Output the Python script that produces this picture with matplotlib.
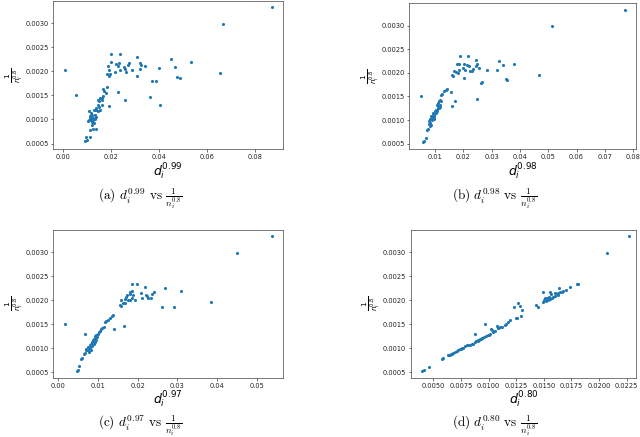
import matplotlib
matplotlib.use("Agg")
import matplotlib.pyplot as plt

# cor dos pontos
cor_pontos = "#1f77b4"

# ---------------- dados ----------------
# (a) d_i^0.99
x_a = [0.0197, 0.0238, 0.0305, 0.0197, 0.0221, 0.0232, 0.0229, 0.0252, 0.0256, 0.0275,
       0.0271, 0.0284, 0.0263, 0.0217, 0.0235, 0.0321, 0.0324, 0.0339, 0.0321, 0.0305,
       0.0184, 0.0189, 0.0182, 0.0193, 0.0189, 0.0371, 0.0388, 0.0399, 0.0360, 0.0402,
       0.0228, 0.0256, 0.0189, 0.0166, 0.0171, 0.0177, 0.0182,
       0.0093, 0.0089, 0.0098, 0.0113, 0.0135, 0.0124, 0.0113, 0.0127, 0.0121, 0.0107,
       0.0103, 0.0113, 0.0117, 0.0124, 0.0131, 0.0110, 0.0121, 0.0131, 0.0117, 0.0107,
       0.0127, 0.0135, 0.0145, 0.0138, 0.0149, 0.0152, 0.0159, 0.0145, 0.0149, 0.0159,
       0.0145, 0.0163, 0.0152, 0.0166, 0.0124, 0.0138, 0.0121, 0.0114, 0.0119,
       0.0006, 0.0054, 0.0871, 0.0667, 0.0449, 0.0533, 0.0465, 0.0653, 0.0472, 0.0486]
y_a = [0.002362, 0.002362, 0.002293, 0.002196, 0.002161, 0.002168, 0.002106, 0.002085, 0.002057, 0.002168,
       0.002140, 0.002022, 0.001988, 0.001988, 0.002022, 0.002175, 0.002133, 0.002106, 0.002050, 0.001911,
       0.002106, 0.002022, 0.001946, 0.001946, 0.001911, 0.001793, 0.001807, 0.002064, 0.001467, 0.001307,
       0.001578, 0.001411, 0.001273, 0.001634, 0.001592, 0.001550, 0.001675,
       0.000627, 0.000558, 0.000572, 0.000634, 0.000801, 0.000801, 0.000787, 0.000926, 0.000891, 0.000995,
       0.000960, 0.001030, 0.001051, 0.001030, 0.001009, 0.001078, 0.001099, 0.001099, 0.001134, 0.001169,
       0.001189, 0.001203, 0.001169, 0.001238, 0.001259, 0.001203, 0.001307, 0.001307, 0.001377, 0.001398,
       0.001411, 0.001446, 0.001446, 0.001481, 0.000995, 0.001051, 0.000940, 0.000981, 0.001009,
       0.002036, 0.001509, 0.003347, 0.002990, 0.002260, 0.002200, 0.002080, 0.001970, 0.001880, 0.001860]

# (b) d_i^0.98
x_b = [0.00494, 0.01895, 0.02178, 0.02437, 0.01766, 0.0186, 0.02025, 0.02119, 0.0219, 0.02002,
       0.0206, 0.02237, 0.01848, 0.01683, 0.01589, 0.01648, 0.0173, 0.01801, 0.0232, 0.02355,
       0.02449, 0.02484, 0.02555, 0.02838, 0.03191, 0.0325, 0.03392, 0.03545, 0.03521, 0.02661,
       0.02626, 0.02037, 0.02473, 0.01695, 0.01601, 0.01554, 0.01424, 0.01377, 0.0133, 0.01259, 0.01212,
       0.00623, 0.00588, 0.0067, 0.00729, 0.00765, 0.00788, 0.00824, 0.008, 0.00835, 0.00882,
       0.00859, 0.00918, 0.00941, 0.00977, 0.01, 0.01024, 0.01059, 0.01094, 0.01118, 0.01071,
       0.01118, 0.01153, 0.01189, 0.01212, 0.01165, 0.00977, 0.00906, 0.00847, 0.00812, 0.01036,
       0.01083, 0.0113, 0.01177, 0.00953,
       0.0771, 0.0513, 0.0379, 0.0467]
y_b = [0.001503, 0.002347, 0.002347, 0.002276, 0.002192, 0.002185, 0.002178, 0.002171, 0.00215, 0.0021,
       0.002051, 0.00203, 0.002051, 0.00203, 0.00196, 0.001925, 0.002009, 0.001995, 0.00203, 0.00208,
       0.002136, 0.002185, 0.0021, 0.002058, 0.002065, 0.002255, 0.002171, 0.001855, 0.001869, 0.001798,
       0.001784, 0.001897, 0.001454, 0.001412, 0.001306, 0.001587, 0.001665, 0.001629, 0.001608, 0.001552, 0.001538,
       0.000554, 0.00054, 0.000624, 0.000786, 0.0008, 0.000905, 0.000941, 0.000976, 0.001011, 0.001046,
       0.001081, 0.001116, 0.001152, 0.001116, 0.001187, 0.001222, 0.001222, 0.001257, 0.001292, 0.001327,
       0.001362, 0.001398, 0.001433, 0.001398, 0.001327, 0.001067, 0.000997, 0.000884, 0.00087, 0.001152,
       0.001187, 0.00125, 0.001278, 0.001025,
       0.00333, 0.00298, 0.00219, 0.00195]

# (c) d_i^0.97
x_c = [0.00168, 0.01868, 0.01985, 0.02178, 0.01801, 0.01859, 0.01734, 0.01801, 0.01884, 0.01717,
       0.01675, 0.01759, 0.01817, 0.01868, 0.01926, 0.01591, 0.01633, 0.01549, 0.01575, 0.01675,
       0.02094, 0.0222, 0.02245, 0.0237, 0.02345, 0.02119, 0.02261, 0.02613, 0.02404,
       0.00486, 0.00502, 0.00528, 0.00586, 0.00611, 0.00653, 0.0067, 0.00695, 0.00712, 0.00737,
       0.00754, 0.00779, 0.00796, 0.00812, 0.00837, 0.00863, 0.00879, 0.00896, 0.00921, 0.00938,
       0.00963, 0.0098, 0.01005, 0.0103, 0.01047, 0.01072, 0.01106, 0.01147, 0.01172, 0.01214,
       0.01256, 0.01298, 0.01348, 0.0139, 0.00687, 0.00863, 0.00921, 0.00779, 0.00821, 0.00896,
       0.00946, 0.00988, 0.01399, 0.01658,
       0.0538, 0.0449, 0.0269, 0.0308, 0.0384, 0.0291]
y_c = [0.0015, 0.002333, 0.002333, 0.002277, 0.002173, 0.002187, 0.002118, 0.002139, 0.002104, 0.002069,
       0.002034, 0.002014, 0.002014, 0.002055, 0.002014, 0.002, 0.001944, 0.001896, 0.001875, 0.001944,
       0.002159, 0.002118, 0.002083, 0.002139, 0.002055, 0.002048, 0.002055, 0.001861, 0.002173,
       0.000521, 0.000555, 0.000625, 0.000771, 0.000798, 0.000875, 0.000903, 0.000958, 0.000993, 0.000972,
       0.001028, 0.000958, 0.001014, 0.001062, 0.001097, 0.001132, 0.001166, 0.001201, 0.001222, 0.00125,
       0.001271, 0.001236, 0.001305, 0.00134, 0.001361, 0.001409, 0.00143, 0.001444, 0.001548, 0.001562,
       0.001597, 0.001632, 0.001666, 0.001687, 0.001305, 0.001041, 0.001132, 0.000916, 0.000972, 0.001097,
       0.00118, 0.001271, 0.001409, 0.001465,
       0.00334, 0.00298, 0.002256, 0.002188, 0.001958, 0.001868]

# (d) d_i^0.80
x_d = [0.00395, 0.00419, 0.00461, 0.00582, 0.00591, 0.00642, 0.0066, 0.00681, 0.00696, 0.00712,
       0.00727, 0.00742, 0.00757, 0.00772, 0.00802, 0.00817, 0.00832, 0.00862, 0.00877, 0.00886,
       0.00902, 0.00914, 0.00929, 0.00944, 0.00956, 0.00974, 0.00877, 0.00968, 0.01022, 0.01034,
       0.01074, 0.01089, 0.01104, 0.01119, 0.0118, 0.01194, 0.01249, 0.01255,
       0.00908, 0.00923, 0.00938, 0.00847, 0.00787, 0.00751, 0.0063, 0.00651, 0.00672, 0.00992,
       0.01004, 0.01013, 0.01043, 0.01058, 0.01082, 0.01149, 0.01155,
       0.01227, 0.0127, 0.01285, 0.01306, 0.01294,
       0.0149, 0.01556, 0.01641, 0.01737, 0.01798, 0.01813, 0.01429, 0.0145, 0.0149, 0.01511,
       0.01526, 0.01541, 0.01556, 0.01571, 0.01586, 0.01601, 0.01616, 0.01632, 0.01647, 0.01662,
       0.01677, 0.01701, 0.01502, 0.0152, 0.0155, 0.01562, 0.01601, 0.01632, 0.01526,
       0.02274, 0.02069]
y_d = [0.000521, 0.000555, 0.000611, 0.000778, 0.000791, 0.000868, 0.000875, 0.000903, 0.000923, 0.000944,
       0.000958, 0.000986, 0.001, 0.001014, 0.001062, 0.001076, 0.001076, 0.001097, 0.001125, 0.001146,
       0.00116, 0.00118, 0.001194, 0.001222, 0.001236, 0.00125, 0.001291, 0.0015, 0.001409, 0.001375,
       0.001458, 0.001423, 0.001437, 0.001444, 0.001548, 0.001583, 0.001632, 0.001639,
       0.001167, 0.001187, 0.001208, 0.001097, 0.001041, 0.000993, 0.000854, 0.000868, 0.000889, 0.001271,
       0.001278, 0.001291, 0.00134, 0.001361, 0.001416, 0.001493, 0.001514,
       0.001861, 0.001944, 0.001875, 0.001791, 0.00168,
       0.002167, 0.002181, 0.00225, 0.002285, 0.00234, 0.00234, 0.001903, 0.001868, 0.001958, 0.002042,
       0.002028, 0.002007, 0.002028, 0.002042, 0.002076, 0.002097, 0.002125, 0.002146, 0.002167, 0.002181,
       0.002194, 0.002208, 0.002007, 0.001986, 0.002076, 0.002125, 0.00216, 0.002111, 0.002056,
       0.00334, 0.00298]

expoentes = ["0.99", "0.98", "0.97", "0.80"]
letras = ["a", "b", "c", "d"]
xticks_a = [0.00, 0.02, 0.04, 0.06, 0.08]
xticks_b = [0.01, 0.02, 0.03, 0.04, 0.05, 0.06, 0.07, 0.08]
xticks_c = [0.00, 0.01, 0.02, 0.03, 0.04, 0.05]
xticks_d = [0.0050, 0.0075, 0.0100, 0.0125, 0.0150, 0.0175, 0.0200, 0.0225]
yticks = [0.0005, 0.0010, 0.0015, 0.0020, 0.0025, 0.0030]

# ---------------- figura ----------------
fig = plt.figure(figsize=(6.4, 4.37), dpi=100)
W, H = 640.0, 437.0

def caixa(esq, dir, topo, base):
    # converte pixels em fracao da figura
    return [esq / W, 1 - base / H, (dir - esq) / W, (base - topo) / H]

paineis = [
    (x_a, y_a, caixa(53.3, 282.7, 0.6, 149.3), (-0.0042, 0.0914), xticks_a, (140, 199)),
    (x_b, y_b, caixa(409.3, 636, 3.3, 149.3), (0.00092, 0.0810), xticks_b, (495, 199)),
    (x_c, y_c, caixa(53.3, 282.7, 229.7, 378), (-0.0012, 0.0565), xticks_c, (140, 426)),
    (x_d, y_d, caixa(410.7, 636, 229.7, 378), (0.00295, 0.02334), xticks_d, (495, 426)),
]

for i, (xs, ys, pos, xlim, xt, cap) in enumerate(paineis):
    ax = fig.add_axes(pos)
    ax.scatter(xs, ys, s=5, color=cor_pontos, linewidths=0)
    ax.set_xlim(*xlim)
    ax.set_ylim(0.00038, 0.00347)
    ax.set_xticks(xt)
    ax.set_yticks(yticks)
    if i == 3:
        ax.set_xticklabels(["%.4f" % v for v in xt])
    else:
        ax.set_xticklabels(["%.2f" % v for v in xt])
    ax.set_yticklabels(["%.4f" % v for v in yticks])
    ax.tick_params(labelsize=4.8, length=1.8, width=0.45, pad=1.5, colors="#222222")
    for sp in ax.spines.values():
        sp.set_linewidth(0.5)
        sp.set_color("#444444")
    ax.set_xlabel(r"$d_i^{%s}$" % expoentes[i], fontsize=9, labelpad=1)
    ax.set_ylabel(r"$\frac{1}{n_i^{0.8}}$", fontsize=7.5, labelpad=0.5)

    # legenda embaixo de cada painel (estilo LaTeX)
    fig.text(cap[0] / W, 1 - cap[1] / H,
             r"(%s) $d_i^{%s}$ vs $\frac{1}{n_i^{0.8}}$" % (letras[i], expoentes[i]),
             ha="center", va="center", fontsize=9.5, family="cmr10", math_fontfamily="cm")

fig.savefig("out.png", dpi=100)
